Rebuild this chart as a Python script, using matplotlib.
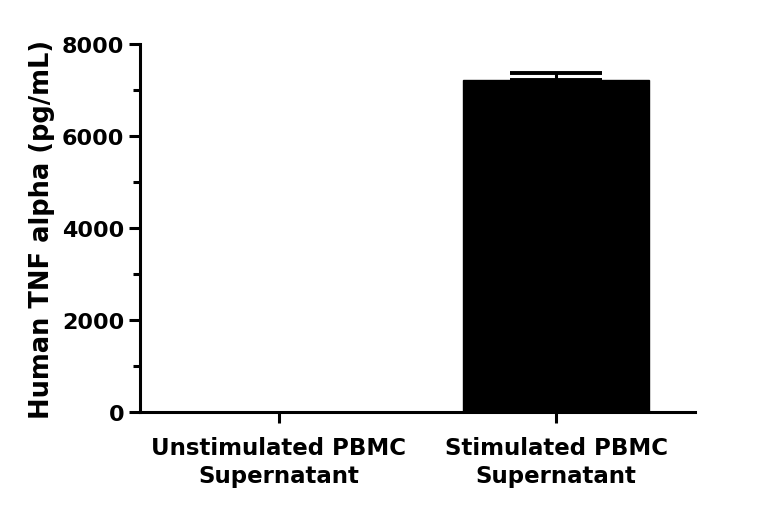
import matplotlib
matplotlib.use('Agg')
import matplotlib.pyplot as plt
from matplotlib.ticker import MultipleLocator

plt.rcParams['font.family'] = ['DejaVu Sans']
plt.rcParams['font.weight'] = 'bold'

categories = ['Unstimulated PBMC\nSupernatant', 'Stimulated PBMC\nSupernatant']
values = [0, 7225]
errors = [0, 145]

fig = plt.figure(figsize=(7.68, 5.1), dpi=100)
ax = fig.add_axes([0.182, 0.19, 0.723, 0.722])

x = range(len(categories))
ax.bar(x, values, width=0.67, color='black', edgecolor='black', zorder=2)
ax.errorbar([1], [values[1]], yerr=[[0], [errors[1]]], fmt='none', ecolor='black',
            elinewidth=2.2, capsize=33, capthick=2.8, zorder=3)

ax.set_xlim(-0.5, 1.5)
ax.set_ylim(0, 8000)
ax.yaxis.set_major_locator(MultipleLocator(2000))
ax.yaxis.set_minor_locator(MultipleLocator(1000))
ax.set_xticks(list(x))
ax.set_xticklabels(categories, fontsize=16.5, fontweight='bold', linespacing=1.3)
ax.set_ylabel('Human TNF alpha (pg/mL)', fontsize=18.5, fontweight='bold', labelpad=5)

for s in ['top', 'right']:
    ax.spines[s].set_visible(False)
for s in ['left', 'bottom']:
    ax.spines[s].set_linewidth(2.2)
ax.tick_params(axis='both', which='major', width=2.2, length=8, labelsize=16)
ax.tick_params(axis='y', which='major', pad=3)
ax.tick_params(axis='x', which='major', pad=9, labelsize=16.5)
ax.tick_params(axis='y', which='minor', width=2.2, length=5)
for lab in ax.get_yticklabels():
    lab.set_fontweight('bold')

fig.savefig('out.png', dpi=100)
